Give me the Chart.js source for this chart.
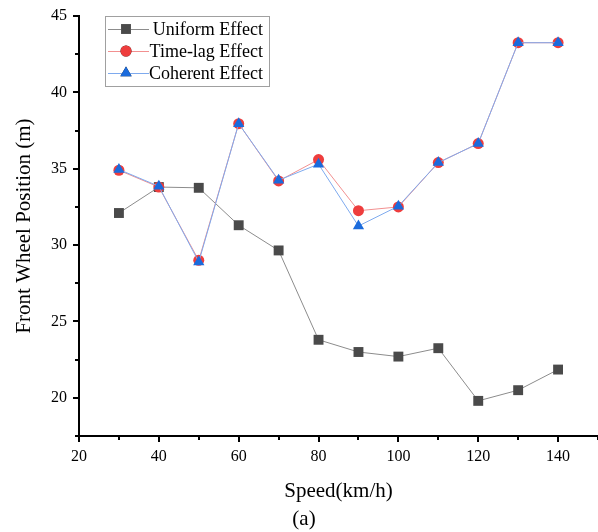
<!DOCTYPE html>
<html>
<head>
<meta charset="utf-8">
<script src="https://cdn.jsdelivr.net/npm/chart.js@4.4.0/dist/chart.umd.min.js"></script>
<style>
  html, body { margin: 0; padding: 0; background: #fff; overflow: hidden; }
  #wrap { width: 598px; height: 532px; position: relative; }
  canvas { display: block; }
</style>
</head>
<body>
<div id="wrap"><canvas id="chart"></canvas></div>
<script>
const speeds = [30, 40, 50, 60, 70, 80, 90, 100, 110, 120, 130, 140];
const uniformEffect = [32.1, 33.8, 33.75, 31.3, 29.65, 23.8, 23.0, 22.7, 23.25, 19.8, 20.5, 21.85];
const timeLagEffect = [34.9, 33.8, 29.0, 37.95, 34.2, 35.6, 32.25, 32.5, 35.4, 36.65, 43.25, 43.25];
const coherentEffect = [34.95, 33.85, 28.9, 37.95, 34.25, 35.3, 31.25, 32.55, 35.4, 36.65, 43.25, 43.25];
const seriesNames = ['Uniform Effect', 'Time-lag Effect', 'Coherent Effect'];
const caption = '(a)';

const serif = "'Liberation Serif', 'Times New Roman', serif";

function pts(vals) {
  return speeds.map((s, i) => ({ x: s, y: vals[i] }));
}

// minor/major tick marks drawn from the scales' own ticks
const tickMarks = {
  id: 'tickMarks',
  afterDraw(chart) {
    const ctx = chart.ctx;
    const xs = chart.scales.x, ys = chart.scales.y;
    ctx.save();
    ctx.strokeStyle = '#000';
    ctx.lineWidth = 2;
    xs.ticks.forEach(t => {
      const px = Math.round(xs.getPixelForValue(t.value));
      const len = t.value % 20 === 0 ? 6 : 4;
      ctx.beginPath();
      ctx.moveTo(px, xs.top);
      ctx.lineTo(px, xs.top + len);
      ctx.stroke();
    });
    ys.ticks.forEach(t => {
      const py = Math.round(ys.getPixelForValue(t.value));
      const len = t.value % 5 === 0 ? 6 : 4;
      ctx.beginPath();
      ctx.moveTo(ys.right, py);
      ctx.lineTo(ys.right - len, py);
      ctx.stroke();
    });
    // sub-figure caption
    ctx.fillStyle = '#000';
    ctx.font = '21px ' + serif;
    ctx.textAlign = 'center';
    ctx.textBaseline = 'middle';
    ctx.fillText(caption, 304, 519);
    ctx.restore();
  }
};

// legend box inside the plot, top left
const boxLegend = {
  id: 'boxLegend',
  afterDraw(chart) {
    const ctx = chart.ctx;
    const x0 = 105, y0 = 16, w = 164, h = 70;
    ctx.save();
    ctx.fillStyle = '#fff';
    ctx.fillRect(x0, y0, w, h);
    ctx.strokeStyle = '#a0a0a0';
    ctx.lineWidth = 1;
    ctx.strokeRect(x0 + 0.5, y0 + 0.5, w, h);
    ctx.font = '18px ' + serif;
    ctx.textBaseline = 'middle';
    ctx.textAlign = 'right';
    chart.data.datasets.forEach((ds, i) => {
      const y = y0 + 13 + i * 22;
      ctx.strokeStyle = ds.borderColor;
      ctx.lineWidth = 1;
      ctx.beginPath();
      ctx.moveTo(x0 + 3, y + 0.5);
      ctx.lineTo(x0 + 44, y + 0.5);
      ctx.stroke();
      Chart.helpers.drawPoint(ctx, {
        pointStyle: ds.pointStyle,
        radius: ds.pointRadius,
        borderWidth: 0
      }, x0 + 21, y);
      ctx.fillStyle = ds.pointBackgroundColor;
      ctx.fill();
      ctx.fillStyle = '#000';
      ctx.fillText(ds.label, x0 + 158, y + 1);
    });
    ctx.restore();
  }
};

const ctx = document.getElementById('chart').getContext('2d');
new Chart(ctx, {
  type: 'line',
  data: {
    datasets: [
      {
        label: seriesNames[0],
        data: pts(uniformEffect),
        borderColor: '#8c8c8c',
        borderWidth: 1,
        pointStyle: 'rect',
        pointRadius: 7,
        pointBackgroundColor: '#4a4a4a',
        pointBorderWidth: 0,
        order: 3
      },
      {
        label: seriesNames[1],
        data: pts(timeLagEffect),
        borderColor: '#f29090',
        borderWidth: 1,
        pointStyle: 'circle',
        pointRadius: 5.5,
        pointBackgroundColor: '#ee3d3d',
        pointBorderWidth: 0,
        order: 2
      },
      {
        label: seriesNames[2],
        data: pts(coherentEffect),
        borderColor: '#7eaaee',
        borderWidth: 1,
        pointStyle: 'triangle',
        pointRadius: 6.5,
        pointBackgroundColor: '#1b6bdc',
        pointBorderWidth: 0,
        order: 1
      }
    ]
  },
  options: {
    responsive: true,
    maintainAspectRatio: false,
    animation: false,
    layout: { autoPadding: false, padding: { top: 16, right: 0, left: 0, bottom: 0 } },
    plugins: {
      legend: { display: false },
      tooltip: { enabled: false }
    },
    scales: {
      x: {
        type: 'linear',
        min: 20,
        max: 150,
        afterFit: s => { s.height = 96; s.paddingLeft = 0; s.paddingRight = 0; },
        border: { color: '#000', width: 2 },
        grid: { drawOnChartArea: false, drawTicks: false },
        ticks: {
          stepSize: 10,
          padding: 11,
          color: '#000',
          font: { family: serif, size: 16 },
          maxRotation: 0,
          autoSkip: false,
          callback: v => (v % 20 === 0 ? v : '')
        },
        title: {
          display: true,
          text: 'Speed(km/h)',
          color: '#000',
          font: { family: serif, size: 21 },
          padding: { top: 6, bottom: 28 }
        }
      },
      y: {
        type: 'linear',
        min: 17.5,
        max: 45,
        afterFit: s => { s.width = 79; s.paddingTop = 0; s.paddingBottom = 0; },
        border: { color: '#000', width: 2 },
        grid: { drawOnChartArea: false, drawTicks: false },
        ticks: {
          stepSize: 2.5,
          padding: 12,
          color: '#000',
          font: { family: serif, size: 16 },
          autoSkip: false,
          callback: v => (v % 5 === 0 ? v : '')
        },
        title: {
          display: true,
          text: 'Front Wheel Position (m)',
          color: '#000',
          font: { family: serif, size: 21 },
          padding: { top: 12, bottom: 4 }
        }
      }
    }
  },
  plugins: [tickMarks, boxLegend]
});
</script>
</body>
</html>
